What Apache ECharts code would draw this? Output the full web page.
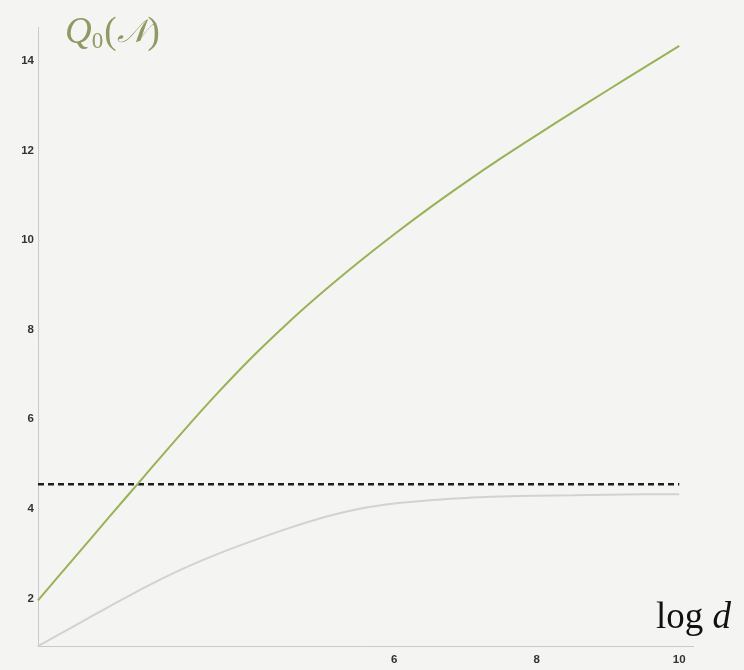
<!DOCTYPE html>
<html>
<head>
<meta charset="utf-8">
<script src="https://cdn.jsdelivr.net/npm/echarts@6/dist/echarts.min.js"></script>
<style>
  html, body { margin: 0; padding: 0; background: #f4f4f2; }
  #chart { width: 744px; height: 670px; }
</style>
</head>
<body>
<div id="chart"></div>
<script>
// log d sample positions
const logD = [1, 1.5, 2, 2.5, 3, 3.5, 4, 4.5, 5, 5.5, 6, 6.5, 7, 7.5, 8, 8.5, 9, 9.5, 10];
// Q0(N) – upper curve
const qUpper = [1.96, 2.89, 3.82, 4.745, 5.665, 6.55, 7.38, 8.14, 8.845, 9.505, 10.13, 10.725, 11.29, 11.83, 12.345, 12.85, 13.35, 13.845, 14.335];
// lower (saturating) curve
const qLower = [0.94, 1.38, 1.82, 2.25, 2.64, 2.98, 3.28, 3.56, 3.81, 4.00, 4.12, 4.195, 4.245, 4.275, 4.295, 4.305, 4.315, 4.325, 4.33];
// horizontal reference level
const refLevel = 4.55;
const refRange = [1, 10];
// axis ticks
const yTicks = [2, 4, 6, 8, 10, 12, 14];
const xLabels = [6, 8, 10];

const zip = (xs, ys) => xs.map((x, i) => [x, ys[i]]);

const chart = echarts.init(document.getElementById('chart'), null, { renderer: 'canvas' });

const axisColor = '#c9c9c6';
const labelStyle = { color: '#333', fontSize: 11.5, fontWeight: 'bold', fontFamily: 'Liberation Sans, Arial, sans-serif' };
const olive = '#8e9a62';
const serif = 'Liberation Serif, serif';

chart.setOption({
  backgroundColor: '#f4f4f2',
  animation: false,
  title: [
    {
      text: '{q|Q}{s|0}{p|(}{n|𝒩}{p|)}',
      left: 60,
      top: 9,
      textStyle: {
        fontWeight: 'normal',
        rich: {
          q: { fontFamily: serif, fontStyle: 'italic', fontWeight: 'normal', fontSize: 37, color: olive },
          s: { fontFamily: serif, fontWeight: 'normal', fontSize: 23, color: olive, verticalAlign: 'bottom', padding: [16, 1, 0, 0] },
          p: { fontFamily: serif, fontWeight: 'normal', fontSize: 37, color: olive },
          n: { fontFamily: 'DejaVu Serif, Liberation Serif, serif', fontStyle: 'italic', fontWeight: 'normal', fontSize: 32, color: olive }
        }
      }
    },
    {
      text: '{l|log }{d|d}',
      left: 651,
      top: 595,
      textStyle: {
        fontWeight: 'normal',
        rich: {
          l: { fontFamily: serif, fontWeight: 'normal', fontSize: 37, color: '#111' },
          d: { fontFamily: serif, fontStyle: 'italic', fontWeight: 'normal', fontSize: 37, color: '#111' }
        }
      }
    }
  ],
  grid: { left: 38, right: 50.5, top: 27.3, bottom: 24, containLabel: false },
  xAxis: {
    type: 'value',
    min: 1,
    max: 10.2,
    axisLine: { show: true, onZero: false, lineStyle: { color: axisColor, width: 1 } },
    axisTick: { show: false },
    axisLabel: { customValues: xLabels, margin: 8, ...labelStyle },
    splitLine: { show: false }
  },
  yAxis: {
    type: 'value',
    min: 0.94,
    max: 14.75,
    axisLine: { show: true, onZero: false, lineStyle: { color: axisColor, width: 1 } },
    axisTick: { show: true, inside: true, length: 2, customValues: yTicks, lineStyle: { color: '#dcdcd9' } },
    axisLabel: { customValues: yTicks, margin: 4, ...labelStyle },
    splitLine: { show: false }
  },
  series: [
    {
      type: 'line',
      data: zip(logD, qLower),
      smooth: 0.3,
      symbol: 'none',
      lineStyle: { color: '#d2d2d0', width: 2 }
    },
    {
      type: 'line',
      data: refRange.map(x => [x, refLevel]),
      symbol: 'none',
      lineStyle: { color: '#1e1e1e', width: 2.5, type: [6, 4] }
    },
    {
      type: 'line',
      data: zip(logD, qUpper),
      smooth: 0.3,
      symbol: 'none',
      lineStyle: { color: '#98b256', width: 2 }
    }
  ]
});
</script>
</body>
</html>
